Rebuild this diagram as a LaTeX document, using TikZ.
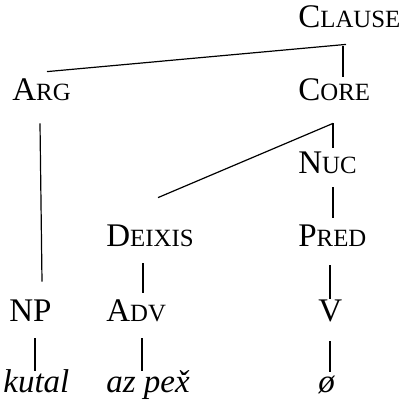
\documentclass[tikz,border=0pt]{standalone}
\usepackage{fontspec}
\setmainfont{Liberation Serif}
\usepackage{tikz}

% fake small caps: first letter full size, rest smaller
\newcommand{\fsc}[2]{#1{\fontsize{12.4pt}{14pt}\selectfont #2}}

\begin{document}
\begin{tikzpicture}[x=0.5pt,y=-0.5pt,
    lbl/.style={anchor=base west,inner sep=0pt,text height=14pt,text depth=8.5pt,
      font=\fontsize{16.5pt}{20pt}\selectfont},
    branch/.style={line width=0.6pt}]
  \useasboundingbox (0,0) rectangle (401,404);

  % Categories
  \node[lbl] (clause) at (298,27) {\fsc{C}{LAUSE}};
  \node[lbl] (arg)    at (12,100) {\fsc{A}{RG}};
  \node[lbl] (core)   at (298,100) {\fsc{C}{ORE}};
  \node[lbl] (nuc)    at (298,173) {\fsc{N}{UC}};
  \node[lbl] (deixis) at (106,246) {\fsc{D}{EIXIS}};
  \node[lbl] (pred)   at (298,246) {\fsc{P}{RED}};
  \node[lbl] (np)     at (9,321) {NP};
  \node[lbl] (adv)    at (106,321) {\fsc{A}{DV}};
  \node[lbl] (v)      at (318,321) {V};

  % Words
  \node[lbl] (kutal)  at (3,392) {\textit{kutal}};
  \node[lbl] (azpex)  at (106,392) {\textit{az pe\v{x}}};
  \node[lbl] (zero)   at (318,392) {\textit{ø}};

  % Branches
  \draw[branch] ([xshift=24pt]clause.south west) -- ([xshift=17.5pt]arg.north west);
  \draw[branch] ([xshift=22.5pt,yshift=-1pt]clause.south west) -- ([xshift=22.5pt,yshift=-2.5pt]core.north west);
  \draw[branch] ([xshift=14pt,yshift=-3pt]arg.south west) -- ([xshift=16.5pt,yshift=5.5pt]np.north west);
  \draw[branch] ([xshift=17.5pt,yshift=-3pt]core.south west) -- ([xshift=26pt,yshift=10pt]deixis.north west);
  \draw[branch] ([xshift=17.5pt,yshift=-3pt]core.south west) -- ([xshift=17.5pt,yshift=-1.5pt]nuc.north west);
  \draw[branch] ([xshift=17.5pt,yshift=1.5pt]nuc.south west) -- ([xshift=17.5pt]pred.north west);
  \draw[branch] ([xshift=18.5pt]deixis.south west) -- ([xshift=18.5pt]adv.north west);
  \draw[branch] ([xshift=16pt,yshift=-1pt]pred.south west) -- ([xshift=6pt,yshift=-3pt]v.north west);
  \draw[branch] ([xshift=13pt]np.south west) -- ([xshift=16pt,yshift=-3.5pt]kutal.north west);
  \draw[branch] ([xshift=18pt]adv.south west) -- ([xshift=18pt,yshift=-3.5pt]azpex.north west);
  \draw[branch] ([xshift=6pt,yshift=-1.5pt]v.south west) -- ([xshift=6pt,yshift=-4pt]zero.north west);
\end{tikzpicture}
\end{document}
